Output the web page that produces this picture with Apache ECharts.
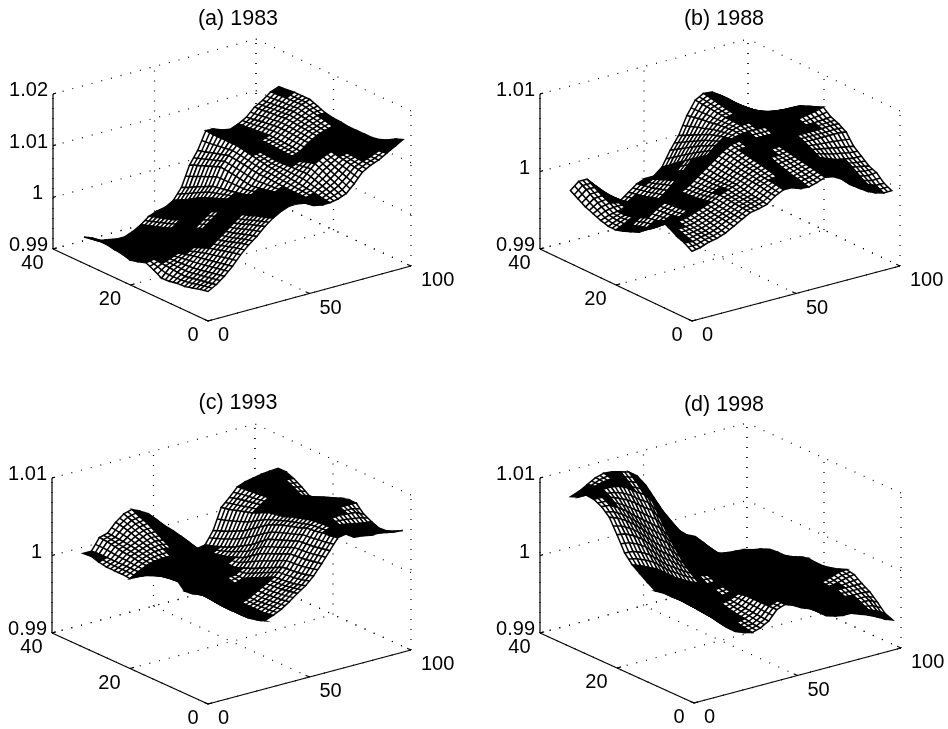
<!DOCTYPE html>
<html><head><meta charset="utf-8">
<style>html,body{margin:0;padding:0;background:#fff}#c{width:948px;height:729px}</style>
<script src="https://cdn.jsdelivr.net/npm/echarts@6/dist/echarts.min.js"></script>
</head><body><div id="c"></div>
<script>
// Surface heights. Stored as (z - 0.99) * 10000; one row per y value, one column per x value.
const xValues = [0,4,8,12,16,20,24,28,32,36,40,44,48,52,56,60,64,68,72,76,80,84,88,92,96];
const yValues = [0,2,4,6,8,10,12,14,16,18,20,22,24,26,28,30,32];
const z1983 = [
[57,66,78,93,111,126,138,153,165,174,180,180,177,168,165,165,168,174,189,207,216,222,231,240,249],
[54,63,75,90,108,122,134,148,160,168,174,175,174,167,165,167,174,182,195,210,217,222,229,236,243],
[50,60,72,87,104,117,129,143,155,162,167,170,170,165,165,170,179,189,201,213,218,221,227,231,234],
[46,57,69,84,100,112,124,137,149,156,160,165,166,164,165,172,184,197,207,216,219,220,225,226,228],
[45,54,66,81,96,108,120,132,144,150,153,159,162,162,165,174,189,204,213,219,219,219,222,222,225],
[42,55,65,78,90,100,111,122,134,142,147,152,156,159,166,176,188,200,207,212,216,218,221,222,225],
[41,57,64,74,84,93,102,112,124,134,140,146,150,156,167,177,188,195,200,206,212,216,221,223,225],
[50,58,63,70,78,85,93,102,114,125,133,139,144,153,168,179,187,190,193,199,208,214,220,223,225],
[57,60,62,66,72,78,84,93,105,117,126,132,138,150,168,180,186,186,186,192,204,213,219,223,227],
[52,58,59,62,66,71,78,87,99,111,119,126,135,152,170,183,188,187,187,193,205,215,221,227,228],
[48,55,55,57,60,64,72,80,92,104,111,120,132,155,173,186,189,188,188,194,206,216,224,230,231],
[52,53,52,53,54,58,66,73,85,97,104,114,129,157,175,189,191,189,189,195,207,218,226,234,237],
[54,51,48,48,48,51,60,66,78,90,96,108,126,159,177,192,192,189,189,195,207,219,228,237,243],
[57,50,45,44,44,46,54,60,72,83,88,100,118,153,172,192,192,188,187,193,205,217,226,236,243],
[57,48,42,40,39,40,48,55,67,76,81,91,111,147,168,192,192,188,186,192,203,216,225,236,243],
[54,46,39,36,34,35,42,50,62,70,74,83,103,141,163,192,192,187,184,190,200,214,223,235,241],
[51,45,36,33,30,30,36,45,57,63,66,75,96,135,159,193,192,186,183,189,198,213,222,234,240]
];
const z1988 = [
[90,92,96,98,102,108,114,120,122,125,133,138,138,134,133,136,140,138,132,122,115,108,103,100,100],
[96,95,98,100,104,110,115,121,124,127,134,140,141,137,136,138,142,140,135,126,120,114,109,105,105],
[100,98,100,102,106,111,116,122,125,128,136,141,143,140,138,141,144,142,137,130,124,119,115,113,114],
[106,102,102,104,108,112,117,123,126,130,137,142,146,143,141,143,146,144,140,134,129,125,122,120,118],
[111,106,104,106,110,114,118,124,128,132,138,144,148,146,144,146,148,146,142,138,134,130,128,126,126],
[102,98,98,102,108,112,116,122,127,132,139,145,150,149,148,148,150,149,146,144,142,140,138,136,134],
[90,90,94,100,106,110,114,120,126,132,140,147,152,152,151,151,152,151,150,149,149,149,149,149,148],
[82,85,92,99,105,109,113,119,126,133,141,149,154,155,155,154,154,154,154,153,153,153,153,154,154],
[78,82,90,98,104,108,112,118,126,134,142,150,156,158,158,156,156,156,156,156,156,156,156,157,158],
[74,79,86,93,97,100,103,109,117,125,134,143,151,156,159,160,160,160,159,158,158,159,161,163,166],
[71,76,82,88,90,92,94,100,108,116,126,136,146,154,160,163,164,163,161,160,160,160,160,161,162],
[71,76,80,84,84,84,86,91,99,108,118,129,141,151,159,164,165,165,163,160,158,157,157,157,158],
[74,78,80,82,80,78,78,82,90,100,110,122,136,148,158,164,166,166,164,160,156,154,154,154,154],
[78,84,86,84,80,76,74,79,87,96,104,115,130,143,156,165,168,168,165,159,153,150,148,147,146],
[82,90,91,86,80,74,71,76,84,92,98,108,124,138,155,166,170,170,165,158,151,146,142,140,138],
[88,97,97,89,80,72,67,74,82,88,91,100,118,133,153,167,172,172,166,157,148,142,137,133,130],
[94,103,103,92,80,70,64,72,80,84,84,93,112,128,151,168,174,173,166,156,146,138,132,125,122]
];
const z1993 = [
[140,132,121,112,105,97,92,88,92,97,104,112,119,129,142,156,170,172,165,164,162,162,160,158,157],
[137,131,121,112,105,97,92,87,90,96,102,110,116,126,140,154,168,172,166,163,160,159,157,154,151],
[133,130,122,113,106,98,93,88,90,95,101,108,114,124,138,152,167,171,166,162,158,156,153,150,147],
[132,132,124,115,107,99,94,89,90,94,100,107,113,123,137,151,165,171,167,163,157,155,152,149,146],
[142,134,126,118,110,102,96,90,90,94,100,106,112,122,136,150,164,170,168,164,157,155,153,151,150],
[143,133,127,120,114,107,101,94,92,93,97,101,107,117,132,146,160,168,167,165,161,162,161,160,155],
[139,132,127,122,117,112,106,99,95,93,94,97,102,112,127,142,157,165,165,164,163,164,165,165,165],
[134,130,127,124,121,116,110,103,97,92,91,93,97,107,123,138,154,162,163,163,163,163,164,164,165],
[129,128,127,126,124,120,114,106,98,91,88,88,92,102,118,134,150,158,160,162,162,162,162,162,162],
[123,125,127,128,128,126,121,114,106,98,93,91,92,98,111,126,145,156,159,161,162,161,160,160,158],
[116,122,127,130,131,131,128,122,114,106,99,95,93,94,104,118,138,154,158,161,162,161,159,157,154],
[117,122,128,132,135,136,134,129,122,113,105,99,95,94,100,112,131,149,155,160,161,160,156,153,148],
[117,122,130,134,138,141,140,136,129,120,110,103,98,94,96,106,124,144,152,158,160,158,154,150,147],
[117,122,131,136,141,146,146,142,135,126,115,107,101,94,93,101,119,141,150,157,160,160,158,156,154],
[119,122,133,137,145,150,152,147,140,131,120,112,104,95,91,97,114,138,148,156,160,162,162,161,160],
[122,122,135,138,148,154,156,152,145,135,124,116,107,95,89,93,110,135,146,155,159,161,162,162,164],
[121,121,136,139,150,158,161,156,150,140,129,120,110,96,88,90,106,133,143,154,158,160,162,163,164]
];
const z1998 = [
[125,115,106,97,86,78,74,71,74,80,92,96,92,86,82,75,67,64,62,62,58,54,49,43,39],
[124,116,107,98,88,81,77,73,75,81,92,96,92,86,82,75,68,66,64,64,60,57,53,49,43],
[126,117,108,99,91,84,80,75,77,82,92,95,91,86,82,76,70,68,66,65,62,60,58,58,53],
[124,117,109,101,93,87,83,78,78,83,92,95,90,86,82,77,72,70,68,68,65,64,63,63,62],
[124,118,110,102,96,90,86,80,80,84,92,94,90,86,82,78,74,72,71,70,68,68,68,68,68],
[122,120,114,107,101,95,90,84,83,85,90,92,89,85,82,78,74,72,70,70,68,68,70,73,75],
[128,124,118,112,106,100,94,88,86,86,88,90,88,84,82,78,74,72,70,69,68,69,72,76,77],
[135,131,126,120,113,106,100,94,91,89,90,91,88,84,82,79,75,72,70,68,67,68,70,71,73],
[142,138,133,128,120,112,106,100,96,92,92,92,88,84,82,80,76,72,70,68,67,67,68,69,70],
[153,152,148,142,133,124,117,110,104,98,96,94,90,86,84,82,78,73,70,68,67,67,67,68,68],
[172,170,165,158,148,138,130,122,113,104,100,96,92,88,86,84,79,74,71,69,68,67,67,68,68],
[190,186,180,172,163,153,145,137,126,114,106,100,95,90,88,86,80,75,71,69,68,67,67,68,69],
[199,198,192,185,176,168,160,152,140,124,112,104,98,92,90,88,82,76,72,70,68,67,66,66,66],
[204,204,201,197,192,185,177,170,157,140,125,114,106,98,94,91,83,76,72,70,68,66,65,64,62],
[205,207,207,207,205,200,192,186,174,156,138,124,114,103,97,94,84,76,71,69,67,66,64,61,59],
[198,203,206,209,210,207,201,197,187,170,152,135,122,109,101,97,85,75,70,68,67,66,63,60,59],
[194,198,204,210,213,212,209,206,198,184,165,146,130,114,105,100,86,75,70,68,67,66,63,61,58]
];
const xTicks = [0,50,100];
const yTicks = [0,20,40];
const zTicks1983 = [0.99,1,1.01,1.02];
const zTicks = [0.99,1,1.01];
const titles = ['(a) 1983','(b) 1988','(c) 1993','(d) 1998'];

// Layout: panel box and the projection of the 3-D axes on it, in pixels.
const panels = [
 {z:z1983,zt:zTicks1983,box:[0,0,474,365],O:[208,321],X:[203,-55],Y:[-155,-72],tc:[233,3]},
 {z:z1988,zt:zTicks,box:[474,0,474,365],O:[218,321],X:[208,-55],Y:[-152,-72],tc:[245,3]},
 {z:z1993,zt:zTicks,box:[0,365,474,364],O:[208,339],X:[203,-54],Y:[-156,-71],tc:[233,22]},
 {z:z1998,zt:zTicks,box:[474,365,474,364],O:[220,338],X:[207,-55],Y:[-154,-70],tc:[245,24]}
];
const ZH = 155, FONT = '"Liberation Sans", Arial, sans-serif';

function projector(p){
  const zMin = p.zt[0], zMax = p.zt[p.zt.length-1];
  return (x,y,z)=>[
    p.O[0] + x/100*p.X[0] + y/40*p.Y[0],
    p.O[1] + x/100*p.X[1] + y/40*p.Y[1] - (z-zMin)/(zMax-zMin)*ZH
  ];
}
const mid=(a,b)=>[(a[0]+b[0])/2,(a[1]+b[1])/2];

const grid=[],xAxis=[],yAxis=[],series=[],title=[];
panels.forEach((p,k)=>{
  const b=p.box, pr=projector(p), zMin=p.zt[0], zMax=p.zt[p.zt.length-1];
  grid.push({left:b[0],top:b[1],width:b[2],height:b[3],show:false});
  xAxis.push({gridIndex:k,type:'value',min:0,max:b[2],show:false});
  yAxis.push({gridIndex:k,type:'value',min:0,max:b[3],inverse:true,show:false});
  title.push({text:titles[k],left:b[0]+p.tc[0],top:b[1]+p.tc[1],textAlign:'center',
    textStyle:{fontFamily:FONT,fontSize:21.5,fontWeight:'normal',color:'#000'}});

  // box lines: [x0,y0,z0,x1,y1,z1,solid]
  const lines=[];
  xTicks.forEach(t=>{lines.push([t,0,zMin,t,40,zMin,0]);lines.push([t,40,zMin,t,40,zMax,0]);
    lines.push([t,0,zMin,t,1,zMin,1]);});
  yTicks.forEach(t=>{lines.push([0,t,zMin,100,t,zMin,0]);lines.push([100,t,zMin,100,t,zMax,0]);
    lines.push([0,t,zMin,2,t,zMin,1]);});
  p.zt.forEach(t=>{lines.push([0,40,t,100,40,t,0]);lines.push([100,0,t,100,40,t,0]);
    lines.push([0,40,t,1.5,40,t,1]);});
  lines.push([0,0,zMin,100,0,zMin,1],[0,0,zMin,0,40,zMin,1],[0,40,zMin,0,40,zMax,1]);
  series.push({type:'custom',coordinateSystem:'cartesian2d',xAxisIndex:k,yAxisIndex:k,silent:true,clip:false,z:1,
    animation:false,data:lines,
    renderItem:(params,api)=>{
      const a=api.coord(pr(api.value(0),api.value(1),api.value(2)));
      const c=api.coord(pr(api.value(3),api.value(4),api.value(5)));
      const solid=api.value(6)===1;
      return {type:'line',shape:{x1:a[0],y1:a[1],x2:c[0],y2:c[1]},
        style:{stroke:'#000',lineWidth:1.2,lineDash:solid?null:[1,9],fill:null}};
    }});

  // mesh cells, back to front: each flat cell is white with a cross-hatch at its mid-lines;
  // cells the view squeezes flat read as solid black, as the original's tight lines do
  const cells=[];
  for(let j=yValues.length-2;j>=0;j--)for(let i=xValues.length-2;i>=0;i--)
    cells.push([xValues[i],yValues[j],xValues[i+1],yValues[j+1],p.z[j][i],p.z[j][i+1],p.z[j+1][i+1],p.z[j+1][i]]);
  const zv=v=>0.99+v/10000;
  series.push({type:'custom',coordinateSystem:'cartesian2d',xAxisIndex:k,yAxisIndex:k,silent:true,clip:false,z:2,
    animation:false,progressive:0,data:cells,
    renderItem:(params,api)=>{
      const x0=api.value(0),y0=api.value(1),x1=api.value(2),y1=api.value(3);
      const P=[pr(x0,y0,zv(api.value(4))),pr(x1,y0,zv(api.value(5))),pr(x1,y1,zv(api.value(6))),pr(x0,y1,zv(api.value(7)))].map(q=>api.coord(q));
      const ax=P[2][0]-P[0][0],ay=P[2][1]-P[0][1],bx=P[3][0]-P[1][0],by=P[3][1]-P[1][1];
      const area=-(ax*by-ay*bx)/2;
      const e=[mid(P[0],P[1]),mid(P[1],P[2]),mid(P[2],P[3]),mid(P[3],P[0])];
      const ls={stroke:'#000',lineWidth:1.5,fill:null};
      return {type:'group',children:[
        {type:'polygon',shape:{points:P},style:{fill:area<68?'#000':'#fff',stroke:'#000',lineWidth:1.5}},
        {type:'line',shape:{x1:e[0][0],y1:e[0][1],x2:e[2][0],y2:e[2][1]},style:ls},
        {type:'line',shape:{x1:e[1][0],y1:e[1][1],x2:e[3][0],y2:e[3][1]},style:ls}
      ]};
    }});

  // tick labels
  const labels=[];
  xTicks.forEach(t=>labels.push([t,0,zMin,String(t),10,14.5,'left']));
  yTicks.forEach(t=>labels.push([0,t,zMin,String(t),-9.5,14.5,'right']));
  p.zt.forEach(t=>{const s=String(t);labels.push([0,40,t,s,s.length<2?-10:-5,-3.5,'right']);});
  series.push({type:'custom',coordinateSystem:'cartesian2d',xAxisIndex:k,yAxisIndex:k,silent:true,clip:false,z:3,
    animation:false,data:labels.map((l,i)=>[l[0],l[1],l[2],i]),
    renderItem:(params,api)=>{
      const l=labels[api.value(3)];
      const q=api.coord(pr(api.value(0),api.value(1),api.value(2)));
      return {type:'text',style:{text:l[3],x:q[0]+l[4],y:q[1]+l[5],align:l[6],verticalAlign:'middle',
        fontFamily:FONT,fontSize:20,fill:'#000'}};
    }});
});
const chart=echarts.init(document.getElementById('c'),null,{renderer:'canvas'});
chart.setOption({animation:false,backgroundColor:'#fff',title,grid,xAxis,yAxis,series});
</script></body></html>
